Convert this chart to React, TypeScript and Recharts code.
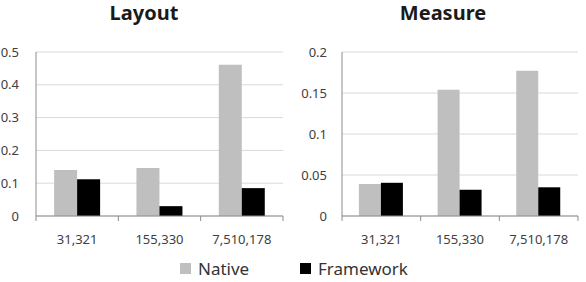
import { BarChart, Bar, XAxis, YAxis, CartesianGrid } from 'recharts'

const sizes = ['31,321', '155,330', '7,510,178']
const layoutNative = [0.14, 0.146, 0.461]
const layoutFramework = [0.112, 0.03, 0.085]
const measureNative = [0.039, 0.154, 0.177]
const measureFramework = [0.0405, 0.032, 0.035]
const layoutTicks = [0, 0.1, 0.2, 0.3, 0.4, 0.5]
const measureTicks = [0, 0.05, 0.1, 0.15, 0.2]

const NATIVE = '#bfbfbf'
const FRAMEWORK = '#000000'
const GRID = '#d9d9d9'
const AXIS = '#8c8c8c'
const TEXT = '#404040'
const FONT = '"Noto Sans", "Open Sans", sans-serif'

const layoutData = sizes.map((s, i) => ({ size: s, native: layoutNative[i], framework: layoutFramework[i] }))
const measureData = sizes.map((s, i) => ({ size: s, native: measureNative[i], framework: measureFramework[i] }))

// x tick: label at centre, Excel-style tick mark at the category boundary
function makeTick(band: number, last: string) {
  return (props: any) => {
    const { x, y, payload } = props
    const h = band / 2
    return (
      <g>
        <line x1={x - h} x2={x - h} y1={y} y2={y + 5} stroke={AXIS} />
        {payload.value === last && <line x1={x + h} x2={x + h} y1={y} y2={y + 5} stroke={AXIS} />}
        <text x={x} y={y + 28} textAnchor="middle" fill={TEXT} fontSize={13} fontFamily={FONT}>{payload.value}</text>
      </g>
    )
  }
}

function Panel({ data, ticks, max, left, right, gap, labelGap }: any) {
  const W = 293
  const band = (W - left - right) / sizes.length
  return (
    <BarChart width={W} height={256} data={data} margin={{ top: 52, right, left: 0, bottom: 6 }}
      barGap={0} barCategoryGap={gap}>
      <CartesianGrid vertical={false} stroke={GRID} />
      <XAxis dataKey="size" height={34} stroke={AXIS} tickLine={false} tickSize={0} tickMargin={0} interval={0}
        tick={makeTick(band, sizes[sizes.length - 1])} />
      <YAxis width={left} domain={[0, max]} ticks={ticks} stroke={AXIS} tickLine={false} tickSize={0}
        tickMargin={labelGap}
        tick={{ fill: TEXT, fontSize: 13, fontFamily: FONT }} />
      <Bar dataKey="native" fill={NATIVE} isAnimationActive={false} />
      <Bar dataKey="framework" fill={FRAMEWORK} isAnimationActive={false} />
    </BarChart>
  )
}

const titleStyle = (cx: number) => ({
  position: 'absolute' as const, top: 0, left: cx - 80, width: 160, textAlign: 'center' as const,
  fontSize: 20, fontWeight: 700, lineHeight: '26px', color: '#1a1a1a', fontFamily: FONT,
})

export default function App() {
  return (
    <div style={{ position: 'absolute', left: 0, top: 0, width: 586, height: 282, background: '#fff', fontFamily: FONT, overflow: 'hidden' }}>
      <div style={titleStyle(144)}>Layout</div>
      <div style={titleStyle(443)}>Measure</div>
      <div style={{ position: 'absolute', left: 0, top: 0 }}>
        <Panel data={layoutData} ticks={layoutTicks} max={0.5} left={36} right={10} gap="22%" labelGap={17} />
      </div>
      <div style={{ position: 'absolute', left: 293, top: 0 }}>
        <Panel data={measureData} ticks={measureTicks} max={0.2} left={49} right={8} gap="21.5%" labelGap={15} />
      </div>

      {/* shared legend */}
      <div style={{ position: 'absolute', top: 258, left: 0, width: 586, height: 20 }}>
        {[['Native', NATIVE, 180], ['Framework', FRAMEWORK, 300]].map(([name, color, x]) => (
          <div key={name as string} style={{ position: 'absolute', left: x as number, top: 0, display: 'flex', alignItems: 'center', height: 20 }}>
            <span style={{ width: 11, height: 11, background: color as string, display: 'inline-block', marginRight: 7 }} />
            <span style={{ fontSize: 17, color: '#333' }}>{name}</span>
          </div>
        ))}
      </div>
    </div>
  )
}
